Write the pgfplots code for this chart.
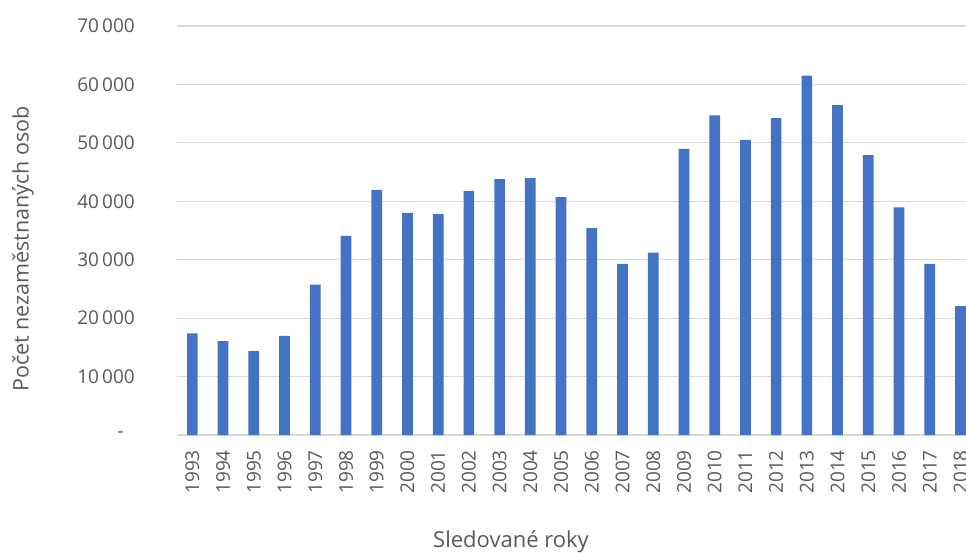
\documentclass[border=0pt]{standalone}
\usepackage{pgfplots}
\pgfplotsset{compat=1.18}
\usepackage{fontspec}
\setmainfont{Open Sans}
\definecolor{barblue}{HTML}{4472C4}
\definecolor{txt}{HTML}{595959}
\definecolor{gridc}{HTML}{D9D9D9}
\begin{document}
\begin{tikzpicture}[font=\fontsize{19}{23}\selectfont]
\begin{axis}[
  at={(0,0)}, anchor=south west,
  scale only axis, width=789pt, height=409pt,
  xmin=-0.5, xmax=25.18, ymin=0, ymax=70000,
  ybar, bar width=10.7pt,
  axis line style={draw=none},
  major tick length=0pt,
  scaled y ticks=false,
  ymajorgrids, grid style={gridc, line width=1.2pt},
  ytick={0,10000,...,70000},
  yticklabels={{-\kern11pt\relax},{10\,000},{20\,000},{30\,000},{40\,000},{50\,000},{60\,000},{70\,000}},
  yticklabel style={anchor=east, xshift=-38.7pt, text=txt},
  xtick={0,...,25},
  xticklabels={1993,1994,1995,1996,1997,1998,1999,2000,2001,2002,2003,2004,2005,2006,2007,2008,2009,2010,2011,2012,2013,2014,2015,2016,2017,2018},
  xticklabel style={rotate=90, anchor=east, inner sep=0pt, text=txt},
  xticklabel shift=15pt,
  xlabel={Sledované roky},
  xlabel style={at={(axis description cs:0.4233,0)}, anchor=base, yshift=-112pt, text=txt, font=\fontsize{22}{26}\selectfont},
  ylabel={Počet nezaměstnaných osob},
  ylabel style={at={(axis description cs:0,0.455)}, anchor=center, yshift=154pt, text=txt, font=\fontsize{21.5}{25}\selectfont},
]
\addplot[fill=barblue, draw=none, bar shift=0pt] coordinates {
(0,17400) (1,16050) (2,14350) (3,16950) (4,25750) (5,34100) (6,41950) (7,38000)
(8,37800) (9,41750) (10,43800) (11,43950) (12,40700) (13,35400) (14,29300) (15,31200)
(16,48950) (17,54700) (18,50500) (19,54250) (20,61500) (21,56450) (22,47900) (23,38950)
(24,29300) (25,22050)
};
\end{axis}
\pgfresetboundingbox
\path[use as bounding box] (-177pt,-117pt) rectangle (789pt,435pt);
\end{tikzpicture}
\end{document}
